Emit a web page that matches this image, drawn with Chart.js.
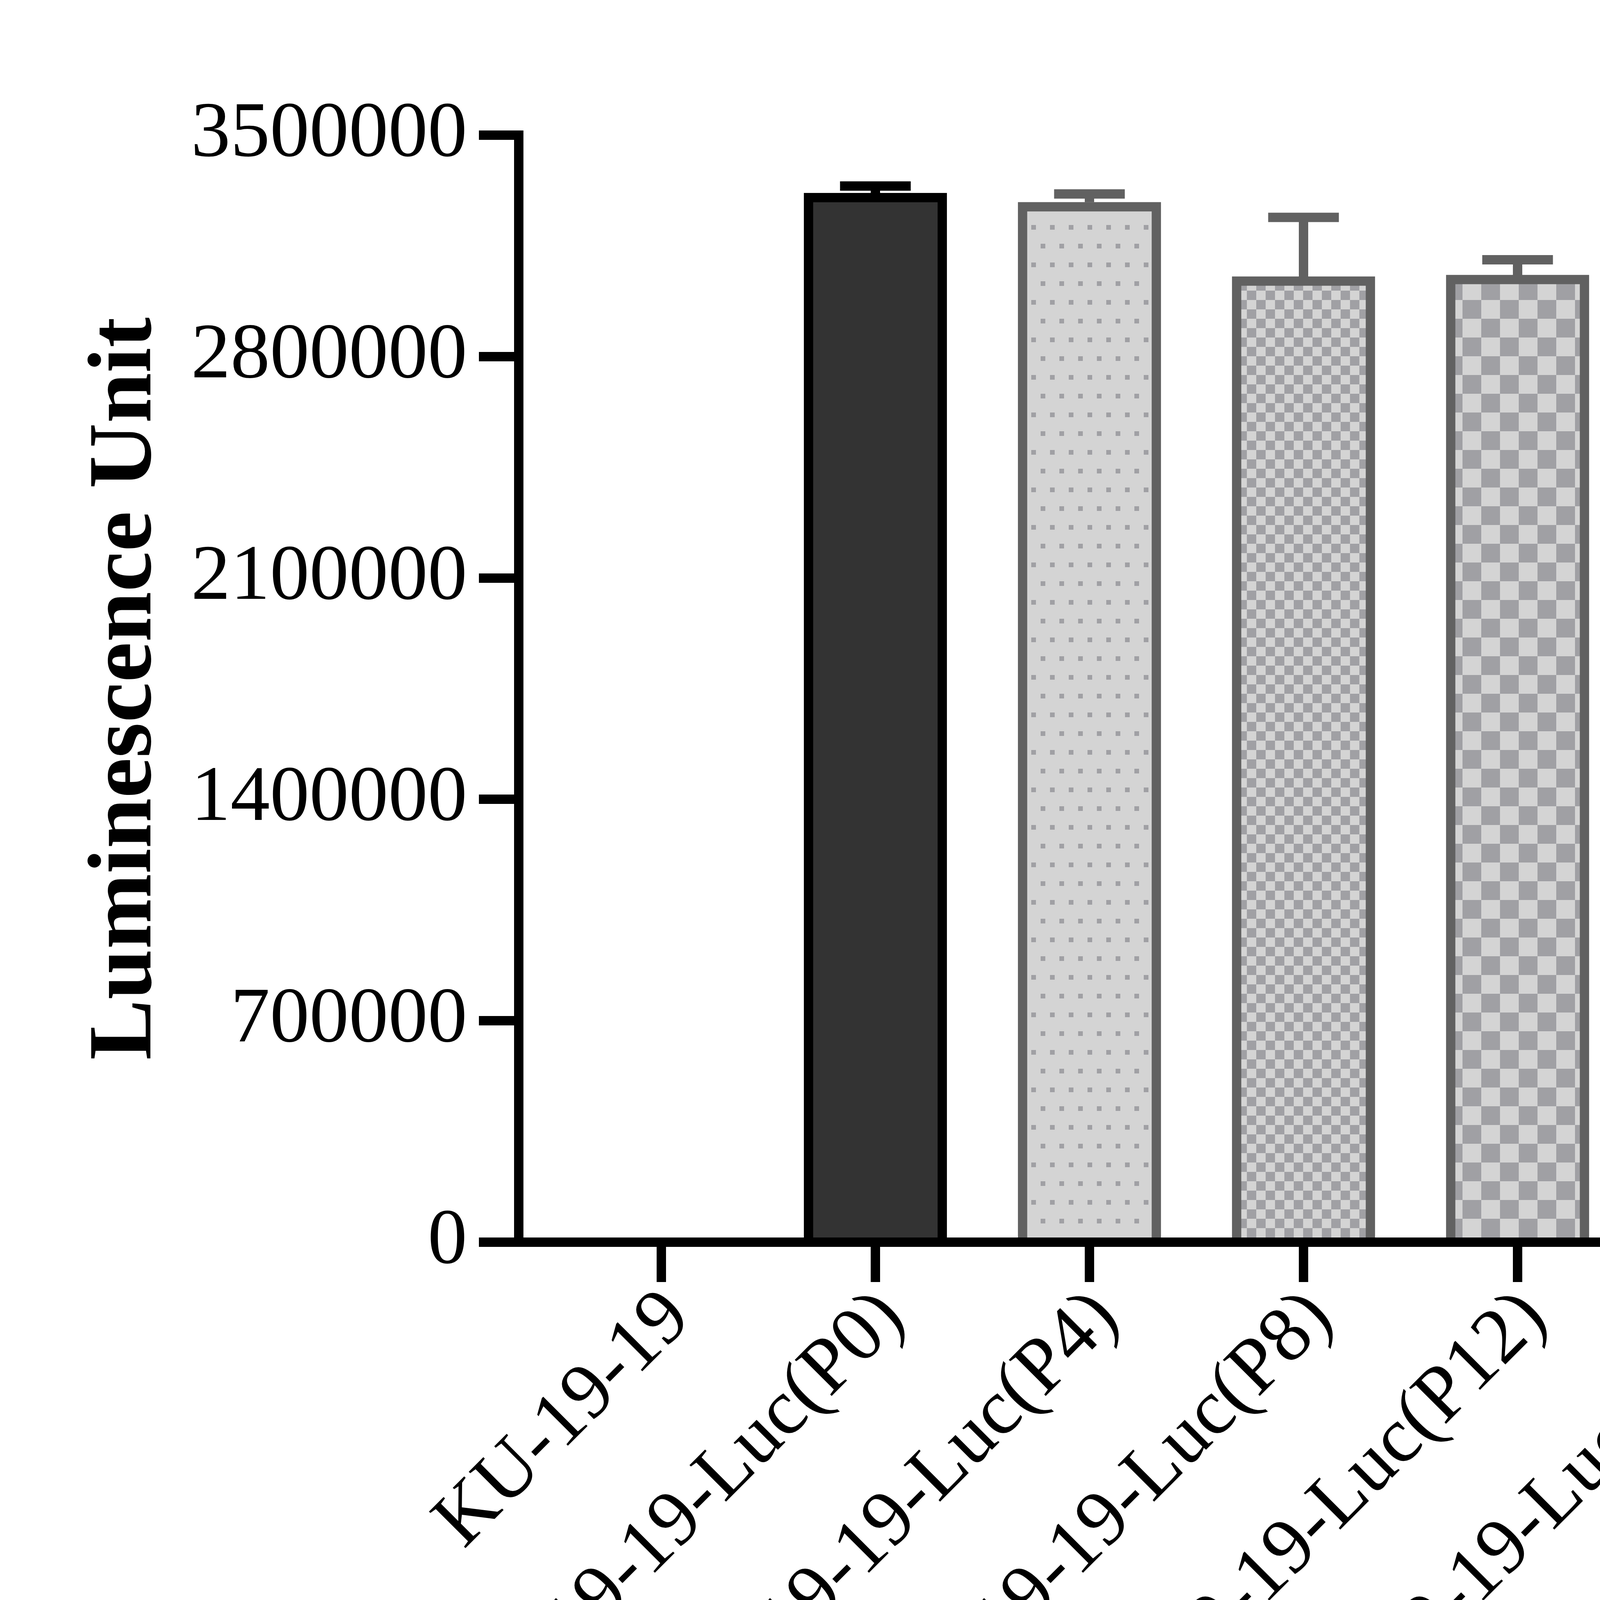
<!DOCTYPE html>
<html>
<head>
<meta charset="utf-8">
<script src="https://cdn.jsdelivr.net/npm/chart.js@4.4.1/dist/chart.umd.min.js"></script>
<style>
  html, body { margin: 0; padding: 0; background: #ffffff; overflow: hidden; }
  #wrap { width: 7402px; height: 5136px; position: relative; }
</style>
</head>
<body>
<div id="wrap"><canvas id="c"></canvas></div>
<script>
// ---- data ----
const categories = [
  'KU-19-19',
  'KU-19-19-Luc(P0)',
  'KU-19-19-Luc(P4)',
  'KU-19-19-Luc(P8)',
  'KU-19-19-Luc(P12)',
  'KU-19-19-Luc(P16)',
  'KU-19-19-Luc(P20)',
  'KU-19-19-Luc(P24)',
  'KU-19-19-Luc(P28)',
  'KU-19-19-Luc(P32)'
];
const means  = [0, 3317000, 3288000, 3053000, 3058000, 3088000, 3009000, 2996000, 2991000, 2907000];
const errors = [0,   22000,   26000,  187000,   48000,   68000,    9000,  128000,   76000,   68000];
const yTickValues = [0, 700000, 1400000, 2100000, 2800000, 3500000];
const xTitle = 'Passage';
const yTitle = 'Luminescence Unit';

// ---- styles ----
const FONT = "'Liberation Serif', 'Times New Roman', Times, serif";
const LIGHT = '#d4d4d4';
const DARK = '#a0a0a4';
const EDGE = '#616161';

function tile(w, h, draw) {
  const c = document.createElement('canvas');
  c.width = w; c.height = h;
  const g = c.getContext('2d');
  g.fillStyle = LIGHT; g.fillRect(0, 0, w, h);
  g.fillStyle = DARK; g.strokeStyle = DARK;
  draw(g, w, h);
  return document.getElementById('c').getContext('2d').createPattern(c, 'repeat');
}
const patDots = tile(48, 96, g => { g.fillRect(0, 0, 12, 12); g.fillRect(24, 48, 12, 12); });
const patCheckS = tile(48, 48, g => { g.fillRect(0, 0, 24, 24); g.fillRect(24, 24, 24, 24); });
const patCheckL = tile(96, 96, g => { g.fillRect(0, 0, 48, 48); g.fillRect(48, 48, 48, 48); });
const patH = tile(72, 72, g => { g.fillRect(0, 0, 72, 12); });
const patV = tile(72, 72, g => { g.fillRect(0, 0, 12, 72); });
const patUp = tile(60, 60, g => {
  g.lineWidth = 10;
  for (let o = -60; o <= 60; o += 60) { g.beginPath(); g.moveTo(o, 60); g.lineTo(o + 60, 0); g.stroke(); }
});
const patDown = tile(60, 60, g => {
  g.lineWidth = 10;
  for (let o = -60; o <= 60; o += 60) { g.beginPath(); g.moveTo(o, 0); g.lineTo(o + 60, 60); g.stroke(); }
});
const patGrid = tile(72, 72, g => { g.fillRect(0, 0, 12, 72); g.fillRect(0, 0, 72, 12); });

const fills = [LIGHT, '#333333', patDots, patCheckS, patCheckL, patH, patV, patUp, patDown, patGrid];
const edges = [EDGE, '#000000', EDGE, EDGE, EDGE, EDGE, EDGE, EDGE, EDGE, EDGE];

const errorBars = {
  id: 'errorBars',
  afterDatasetsDraw(chart) {
    const ctx = chart.ctx;
    const meta = chart.getDatasetMeta(0);
    const ys = chart.scales.y;
    meta.data.forEach((bar, i) => {
      const e = errors[i];
      if (!e) return;
      const yTop = ys.getPixelForValue(means[i] + e);
      ctx.save();
      ctx.strokeStyle = edges[i];
      ctx.lineWidth = 24;
      ctx.lineCap = 'butt';
      ctx.beginPath(); ctx.moveTo(bar.x, bar.y); ctx.lineTo(bar.x, yTop); ctx.stroke();
      ctx.beginPath(); ctx.moveTo(bar.x - 90.5, yTop); ctx.lineTo(bar.x + 90.5, yTop); ctx.stroke();
      ctx.restore();
    });
  }
};

new Chart(document.getElementById('c'), {
  type: 'bar',
  data: {
    datasets: [{
      data: means.map((v, i) => ({ x: i, y: v })),
      backgroundColor: fills,
      borderColor: edges,
      borderWidth: 24,
      borderSkipped: 'start',
      barThickness: 366
    }]
  },
  options: {
    responsive: true,
    maintainAspectRatio: false,
    devicePixelRatio: 1,
    animation: false,
    layout: { padding: { left: 0, top: 346, right: 407, bottom: 0 } },
    plugins: { legend: { display: false }, tooltip: { enabled: false } },
    scales: {
      x: {
        type: 'linear',
        min: -0.666,
        max: 9.675,
        offset: false,
        z: 1,
        afterBuildTicks: s => { s.ticks = categories.map((_, i) => ({ value: i })); },
        afterFit: s => { s.height = 1956; },
        border: { display: true, color: '#000000', width: 24 },
        grid: { display: true, drawOnChartArea: false, drawTicks: true, tickLength: 102, lineWidth: 24, tickWidth: 24, color: '#000000', tickColor: '#000000', offset: false },
        ticks: {
          autoSkip: false,
          minRotation: 45,
          maxRotation: 45,
          padding: -25,
          labelOffset: 44,
          color: '#000000',
          font: { family: FONT, size: 202 },
          callback: v => (categories[v] !== undefined ? categories[v] : '')
        },
        title: {
          display: true, text: xTitle, color: '#000000',
          font: { family: FONT, size: 232, weight: 'bold' },
          padding: { top: 0, bottom: 135 }
        }
      },
      y: {
        min: 0,
        max: 3500000,
        z: 1,
        afterBuildTicks: s => { s.ticks = yTickValues.map(v => ({ value: v })); },
        afterFit: s => { s.width = 1328; },
        border: { display: true, color: '#000000', width: 24 },
        grid: { display: true, drawOnChartArea: false, drawTicks: true, tickLength: 102, lineWidth: 24, tickWidth: 24, color: '#000000', tickColor: '#000000' },
        ticks: {
          padding: 30,
          color: '#000000',
          font: { family: FONT, size: 202 },
          callback: v => String(v)
        },
        title: {
          display: true, text: yTitle, color: '#000000',
          font: { family: FONT, size: 232, weight: 'bold' },
          padding: { top: 186, bottom: 0 }
        }
      }
    }
  },
  plugins: [errorBars]
});
</script>
</body>
</html>
